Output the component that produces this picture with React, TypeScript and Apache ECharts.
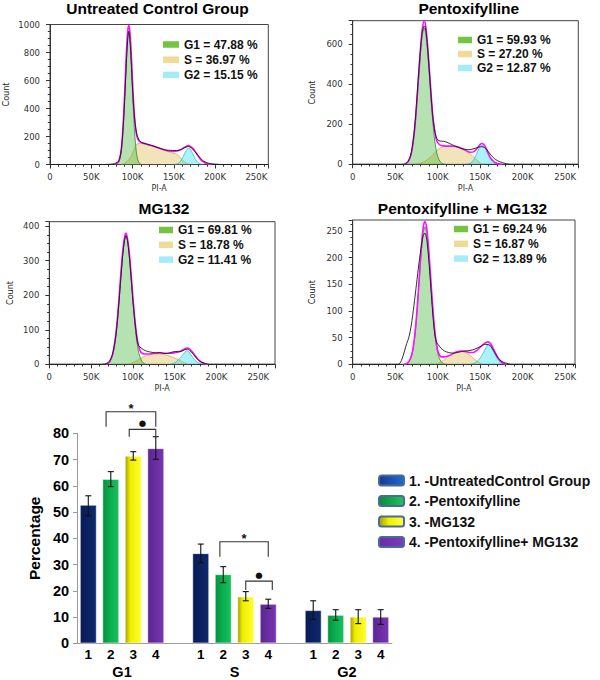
import React, { useEffect, useRef } from "react";
import * as echarts from "echarts";

// ---------- Histogram panels (PI-A in K, Count) ----------
const panelTitles = ["Untreated Control Group", "Pentoxifylline", "MG132", "Pentoxifylline + MG132"];
const g1Labels = ["G1 = 47.88 %", "G1 = 59.93 %", "G1 = 69.81 %", "G1 = 69.24 %"];
const sLabels = ["S = 36.97 %", "S = 27.20 %", "S = 18.78 %", "S = 16.87 %"];
const g2Labels = ["G2 = 15.15 %", "G2 = 12.87 %", "G2 = 11.41 %", "G2 = 13.89 %"];

const ctrlG1 = [[81,2],[83.4,17],[85.4,59],[86.4,100],[87.4,160],[88.4,240],[89.4,348],[90.4,472],[91.4,605],[92.4,741],[93.4,847],[94.4,917],[95.4,943],[96.4,917],[97.4,847],[98.4,741],[99.4,605],[100.4,472],[101.4,348],[102.4,240],[103.4,160],[104.4,100],[105.4,59],[107.4,17],[109.4,4],[112,0]];
const ctrlS = [[86,0],[90,8],[94,25],[98,55],[101,95],[103.5,130],[106,148],[110,150],[115,146],[120,138],[126,128],[132,116],[138,103],[144,90],[150,80],[154,72],[157,55],[160,35],[163,18],[166,7],[170,0]];
const ctrlG2 = [[149,0],[153,3],[156,11],[158,22],[160,40],[162,64],[164,89],[166,108],[168,116],[170,108],[172,89],[174,64],[176,40],[178,22],[180,11],[183,3],[187,0]];
const ctrlFit = [[79,0],[83,20],[85,62],[86.4,110],[87.4,175],[88.4,260],[89.4,370],[90.4,500],[91.4,640],[92.4,780],[93.4,890],[94.4,965],[95.4,993],[96.4,970],[97.4,900],[98.4,800],[99.4,670],[100.4,545],[101.4,430],[102.4,340],[103.4,275],[104.4,230],[105.4,200],[107,175],[110,158],[115,150],[120,140],[126,130],[132,118],[138,106],[144,96],[150,94],[155,98],[159,108],[163,122],[166,132],[168,135],[170,130],[173,115],[176,92],[179,65],[182,40],[185,22],[188,10],[192,3],[196,0]];
const ctrlRaw = [[0,0],[60,0],[70,1],[76,4],[80,10],[83,22],[85,55],[86.5,110],[88,210],[89.5,350],[91,530],[92.5,720],[94,880],[95.4,952],[96.5,920],[98,780],[99.5,600],[101,440],[102.5,330],[104,255],[105.5,210],[107.5,180],[110,162],[113,152],[117,146],[121,140],[126,130],[131,120],[136,110],[141,103],[146,101],[151,100],[155,100],[159,107],[163,120],[166,127],[168,128],[171,120],[174,104],[177,82],[180,60],[183,40],[186,25],[190,13],[195,6],[200,3],[205,1],[210,0],[264,0]];

const ptxG1 = [[62,3],[65,12],[68,39],[70,77],[72,137],[74,224],[76,335],[78,456],[80,568],[82,650],[84.2,680],[86,650],[88,568],[90,456],[92,335],[94,224],[96,137],[98,77],[100,39],[103,12],[106,3],[109,0]];
const ptxS = [[73,0],[80,6],[86,18],[92,38],[97,60],[101,76],[105,86],[110,90],[116,90],[122,88],[127,80],[132,68],[137,54],[142,38],[146,22],[149,10],[152,2],[155,0]];
const ptxG2 = [[133,0],[137,3],[140,10],[142,20],[144,35],[146,55],[148,75],[150,90],[151.8,95],[154,90],[156,78],[158,60],[160,42],[162,27],[164,16],[167,6],[171,1],[174,0]];
const ptxFit = [[62,3],[65,12],[68,40],[70,80],[72,142],[74,232],[76,348],[78,472],[80,590],[82,680],[84.2,718],[86,690],[88,600],[90,485],[92,365],[94,250],[96,180],[98,130],[100,108],[103,96],[107,92],[112,91],[118,91],[122,89],[127,82],[132,72],[136,63],[139,60],[142,62],[145,72],[148,88],[150,100],[152,104],[154,100],[156,88],[158,70],[160,50],[162,33],[165,18],[168,8],[172,2],[176,0]];
const ptxRaw = [[0,0],[58,0],[62,3],[65,14],[68,42],[70,85],[72,150],[74,240],[76,360],[78,480],[80,590],[82,665],[84.2,692],[86,670],[88,590],[90,475],[92,355],[94,250],[96,180],[98,140],[100,122],[103,116],[107,115],[111,110],[116,100],[121,90],[126,82],[131,76],[136,73],[140,75],[144,80],[148,86],[151.8,88],[155,84],[158,72],[161,55],[164,40],[167,28],[170,19],[173,13],[177,7],[181,3],[185,0],[265,0]];

const mgG1 = [[69.7,2],[72.7,9],[75.7,27],[77.7,51],[79.7,86],[81.7,135],[83.7,196],[85.7,260],[87.7,317],[89.7,357],[91.7,375],[93.7,357],[95.7,317],[97.7,260],[99.7,196],[101.7,135],[103.7,86],[105.7,51],[107.7,27],[110.7,9],[113.7,2],[116,0]];
const mgS = [[94,0],[99,4],[104,10],[109,17],[115,24],[121,28],[128,30],[135,29],[141,26],[147,21],[153,15],[158,9],[162,4],[166,0]];
const mgG2 = [[144,0],[148,2],[151,6],[154,12],[157,20],[160,28],[162,34],[164.4,40],[167,36],[169,29],[171,22],[174,13],[177,6],[181,2],[186,0]];
const mgFit = [[68,0],[70.7,4],[72.7,10],[75.7,28],[77.7,53],[79.7,89],[81.7,139],[83.7,201],[85.7,266],[87.7,324],[89.7,364],[91.7,380],[93.7,362],[95.7,322],[97.7,266],[99.7,204],[101.7,146],[103.7,99],[105.7,66],[107.7,45],[110,34],[114,30],[120,30],[126,32],[132,33],[138,32],[144,32],[149,33],[153,36],[157,38],[160,42],[163,46],[165,47],[168,44],[171,36],[174,26],[177,17],[180,10],[183,5],[187,1],[190,0]];
const mgRaw = [[0,0],[62,0],[66,1],[69,3],[72,9],[75,25],[77.5,50],[80,90],[82,140],[84,200],[86,262],[88,320],[90,358],[91.7,372],[93.5,358],[95.5,318],[97.5,262],[99.5,200],[101.5,145],[103.5,100],[105,70],[106.5,55],[108.5,50],[111,45],[113,42],[116.5,38],[120,36],[124,34],[128,33],[132,34],[136,32],[140,31],[144,33],[148,36],[151,37],[154,36],[157,37],[160,40],[163,43],[165,44],[168,40],[171,33],[174,24],[177,15],[180,9],[183,5],[187,2],[192,0],[270,0]];

const comboG1 = [[63,1],[66,5],[69,15],[71,29],[73,52],[75,85],[77,127],[79,173],[81,216],[83,247],[85,258],[87,247],[89,216],[91,173],[93,127],[95,85],[97,52],[99,29],[101,15],[104,5],[107,1],[110,0]];
const comboS = [[97,0],[102,3],[107,8],[112,14],[117,19],[122,23],[126,24],[131,23],[136,19],[141,13],[145,7],[149,3],[152,0]];
const comboG2 = [[139,0],[143,2],[146,5],[149,10],[152,17],[155,26],[157.5,33],[159.5,38],[162,35],[164,29],[166,22],[169,13],[172,6],[175,2],[179,0]];
const comboFit = [[60,0],[63,1],[66,5],[69,15],[71,30],[73,54],[75,88],[77,132],[79,180],[81,225],[83,258],[85,268],[87,256],[89,224],[91,180],[93,133],[95,90],[97,57],[99,34],[101,21],[104,14],[108,14],[113,16],[118,20],[123,24],[128,25],[133,24],[138,22],[142,22],[146,26],[150,32],[154,38],[157,41],[159.5,42],[162,39],[165,31],[168,21],[171,12],[174,6],[177,2],[181,0]];
const comboRaw = [[0,0],[52,0],[55,1],[58,10],[61,25],[63.5,39],[66,50],[69,74],[72,110],[75,150],[78,190],[81,225],[83,242],[85,246],[87,235],[89,205],[91,165],[93,120],[95,80],[97,52],[99,40],[101,36],[104,30],[108,25],[113,22],[118,21],[123,22],[128,24],[133,25],[138,26],[143,28],[147,31],[151,34],[155,37],[158,37],[161,36],[164,30],[167,22],[170,14],[173,8],[177,4],[181,2],[186,0],[262,0]];

const panelG1 = [ctrlG1, ptxG1, mgG1, comboG1];
const panelS = [ctrlS, ptxS, mgS, comboS];
const panelG2 = [ctrlG2, ptxG2, mgG2, comboG2];
const panelFit = [ctrlFit, ptxFit, mgFit, comboFit];
const panelRaw = [ctrlRaw, ptxRaw, mgRaw, comboRaw];

// ---------- Bar chart (Percentage) ----------
const groupNames = ["G1", "S", "G2"];
const treatmentNames = ["1. -UntreatedControl Group", "2. -Pentoxifylline", "3. -MG132", "4. -Pentoxifylline+ MG132"];
const treatmentTicks = ["1", "2", "3", "4"];
const g1Mean = [52.7, 62.6, 71.4, 74.3];
const g1Low = [48.6, 59.7, 69.8, 70.1];
const g1High = [56.2, 65.4, 73.0, 78.7];
const sMean = [34.3, 26.3, 17.8, 15.0];
const sLow = [30.7, 23.1, 16.2, 13.3];
const sHigh = [37.8, 29.2, 19.7, 16.8];
const g2Mean = [12.6, 10.8, 10.1, 10.1];
const g2Low = [9.1, 8.8, 7.5, 7.2];
const g2High = [16.2, 12.8, 12.8, 12.8];

// significance brackets (slot units on the category axis, percentage values)
const bracketFrom = [0.79, 1.82, 5.85, 7.0];
const bracketTo = [3.0, 3.0, 8.0, 8.18];
const bracketTop = [88.2, 81.5, 38.7, 23.7];
const bracketLeg = [82.5, 78.7, 33.0, 20.3];
const bracketMark = ["*", "●", "*", "●"];

// ---------- layout / style ----------
const SANS = '"Liberation Sans", Arial, Helvetica, sans-serif';
const AXF = '"DejaVu Sans", Verdana, sans-serif';
const NARROW = '"Liberation Sans Narrow", "DejaVu Sans Condensed", Arial, sans-serif';

const gridSpecs = [
  { left: 49.3, top: 24.5, width: 219, height: 140, xMax: 264.5, yMax: 1000, yStep: 200, countGap: 40 },
  { left: 352.7, top: 20.7, width: 225.6, height: 143.6, xMax: 265.4, yMax: 718, yStep: 200, countGap: 36.5 },
  { left: 49.3, top: 221.7, width: 225.7, height: 142.6, xMax: 270, yMax: 413, yStep: 100, countGap: 35 },
  { left: 352.7, top: 220, width: 222.3, height: 144.3, xMax: 261.5, yMax: 270.7, yStep: 50, countGap: 36.5 },
];
const titlePos = [[157.5, 8.7], [468.8, 8.7], [164, 208.7], [462.5, 208.3]];
const histLegendPos = [
  { left: 163, top: 38.5, itemWidth: 16, itemGap: 3.2 },
  { left: 458, top: 34, itemWidth: 14, itemGap: 2 },
  { left: 159, top: 224, itemWidth: 14, itemGap: 2.8 },
  { left: 454, top: 223, itemWidth: 14, itemGap: 2.8 },
];

const lin = (stops: [number, string][]) => ({
  type: "linear", x: 0, y: 0, x2: 1, y2: 0,
  colorStops: stops.map(([offset, color]) => ({ offset, color })),
});
const barColors = [
  lin([[0, "#0a1a55"], [1, "#0d2a6e"]]),
  lin([[0, "#049240"], [0.5, "#0bb050"], [1, "#19c060"]]),
  lin([[0, "#a8a000"], [0.3, "#eeee00"], [1, "#ffff2a"]]),
  lin([[0, "#5a2590"], [1, "#7a35b2"]]),
];
const legendColors = [
  lin([[0, "#173a8c"], [1, "#1f6bd0"]]),
  lin([[0, "#0a8a3c"], [1, "#22c45c"]]),
  lin([[0, "#a0a000"], [0.4, "#f2f200"], [1, "#ffff40"]]),
  lin([[0, "#6a2ea2"], [1, "#7b3cba"]]),
];

function buildOption() {
  const grids: any[] = [];
  const xAxes: any[] = [];
  const yAxes: any[] = [];
  const series: any[] = [];
  const legends: any[] = [];
  const graphics: any[] = [];

  gridSpecs.forEach((g, i) => {
    grids.push({ left: g.left, top: g.top, width: g.width, height: g.height, show: true, borderColor: "#444", borderWidth: 1, backgroundColor: "transparent" });
    xAxes.push({
      type: "value", gridIndex: i, min: 0, max: g.xMax, interval: 50,
      name: "PI-A", nameLocation: "middle", nameGap: 20,
      nameTextStyle: { fontFamily: AXF, fontSize: 8, color: "#333" },
      axisLine: { lineStyle: { color: "#333", width: 1 } },
      axisTick: { length: 4, lineStyle: { color: "#333" } },
      minorTick: { show: true, splitNumber: 5, length: 2.2, lineStyle: { color: "#333" } },
      splitLine: { show: false },
      axisLabel: { fontFamily: AXF, fontSize: 8.5, color: "#333", margin: 8, showMaxLabel: false,
        formatter: (v: number) => (v === 0 ? "0" : `${v}K`) },
    });
    yAxes.push({
      type: "value", gridIndex: i, min: 0, max: g.yMax, interval: g.yStep,
      name: "Count", nameLocation: "middle", nameGap: g.countGap,
      nameTextStyle: { fontFamily: NARROW, fontSize: 9, color: "#222" },
      axisLine: { show: true, lineStyle: { color: "#333", width: 1 } },
      axisTick: { show: true, length: 4, lineStyle: { color: "#333" } },
      minorTick: { show: true, splitNumber: 4, length: 2.2, lineStyle: { color: "#333" } },
      splitLine: { show: false },
      axisLabel: { fontFamily: AXF, fontSize: 8.5, color: "#333", margin: 10, showMaxLabel: g.yMax % g.yStep === 0,
        formatter: (v: number) => String(v) },
    });
    const common = { type: "line", xAxisIndex: i, yAxisIndex: i, showSymbol: false, symbol: "none", silent: true, smooth: 0.3 };
    series.push({ ...common, name: sLabels[i], data: panelS[i], z: 2,
      lineStyle: { color: "#c09a40", width: 0.6 }, areaStyle: { color: "rgba(220,188,85,0.58)" } });
    series.push({ ...common, name: g2Labels[i], data: panelG2[i], z: 2,
      lineStyle: { color: "#1aa5c0", width: 0.6 }, areaStyle: { color: "rgba(30,225,240,0.55)" } });
    series.push({ ...common, name: g1Labels[i], data: panelG1[i], z: 2,
      lineStyle: { color: "#2f8a2a", width: 0.8 }, areaStyle: { color: "rgba(60,180,50,0.55)" } });
    series.push({ ...common, name: `fit${i}`, data: panelFit[i], z: 3,
      lineStyle: { color: "#ff10ff", width: 1.6 } });
    series.push({ ...common, name: `raw${i}`, data: panelRaw[i], z: 4,
      lineStyle: { color: "#1a1a1a", width: 0.9 } });
    const lp = histLegendPos[i];
    legends.push({
      orient: "vertical", left: lp.left, top: lp.top, itemWidth: lp.itemWidth, itemHeight: 6.5, itemGap: lp.itemGap,
      padding: 0, icon: "rect", selectedMode: false,
      textStyle: { fontFamily: SANS, fontSize: 12, fontWeight: "bold", color: "#111" },
      data: [
        { name: g1Labels[i], itemStyle: { color: "#74c441" } },
        { name: sLabels[i], itemStyle: { color: "#f0da96" } },
        { name: g2Labels[i], itemStyle: { color: "#a4ecf8" } },
      ],
    });
    graphics.push({
      type: "text", x: titlePos[i][0], y: titlePos[i][1],
      style: { text: panelTitles[i], fontFamily: SANS, fontSize: 15.5, fontWeight: "bold", fill: "#000", align: "center", verticalAlign: "middle" },
    });
  });

  // bar chart
  const slots: string[] = [];
  groupNames.forEach((g, gi) => {
    treatmentTicks.forEach((t) => slots.push(`${g}|${t}`));
    if (gi < groupNames.length - 1) slots.push(`${g}|`);
  });
  const groupSlots: string[] = [];
  for (let i = 0; i <= slots.length; i++) {
    const gi = groupNames.findIndex((_, k) => k * 5 + 2 === i);
    groupSlots.push(gi >= 0 ? groupNames[gi] : `_${i}`);
  }
  const means = [g1Mean, sMean, g2Mean];
  const lows = [g1Low, sLow, g2Low];
  const highs = [g1High, sHigh, g2High];

  grids.push({ left: 77.05, top: 433.3, width: 314.9, height: 210 });
  xAxes.push({
    type: "category", gridIndex: 4, data: slots, position: "bottom",
    axisLine: { lineStyle: { color: "#9a9a9a", width: 1 } },
    axisTick: { show: false },
    axisLabel: { interval: 0, margin: 4.5, fontFamily: SANS, fontSize: 13.5, fontWeight: "bold", color: "#000",
      formatter: (v: string) => v.split("|")[1] },
  });
  xAxes.push({
    type: "category", gridIndex: 4, data: groupSlots, position: "bottom", boundaryGap: false,
    axisLine: { show: false }, axisTick: { show: false },
    axisLabel: { interval: 0, margin: 21, fontFamily: SANS, fontSize: 14.5, fontWeight: "bold", color: "#000",
      formatter: (v: string) => (v.startsWith("_") ? "" : v) },
  });
  yAxes.push({
    type: "value", gridIndex: 4, min: 0, max: 80, interval: 10,
    name: "Percentage", nameLocation: "middle", nameGap: 32,
    nameTextStyle: { fontFamily: SANS, fontSize: 15.5, fontWeight: "bold", color: "#000" },
    axisLine: { show: true, lineStyle: { color: "#9a9a9a", width: 1 } },
    axisTick: { show: true, length: 4, lineStyle: { color: "#9a9a9a" } },
    splitLine: { show: false },
    axisLabel: { margin: 8, fontFamily: SANS, fontSize: 14.5, fontWeight: "bold", color: "#000" },
  });
  treatmentNames.forEach((name, k) => {
    series.push({
      type: "bar", name, xAxisIndex: 4, yAxisIndex: 4, barWidth: 16.7, barGap: "-100%", silent: true, z: 2,
      itemStyle: { color: barColors[k], borderColor: "rgba(255,255,255,0.6)", borderWidth: 0.8 },
      data: slots.map((_, i) => (i % 5 === k ? means[Math.floor(i / 5)][k] : null)),
    });
  });
  const errData: number[][] = [];
  means.forEach((arr, gi) => arr.forEach((_, k) => errData.push([gi * 5 + k, lows[gi][k], highs[gi][k]])));
  series.push({
    type: "custom", xAxisIndex: 4, yAxisIndex: 4, z: 5, silent: true, clip: false,
    encode: { x: 0, y: [1, 2] }, data: errData,
    renderItem: (_p: any, api: any) => {
      const x = api.value(0);
      const lo = api.coord([x, api.value(1)]);
      const hi = api.coord([x, api.value(2)]);
      const w = 3;
      const st = { stroke: "#111", lineWidth: 1.1 };
      return {
        type: "group", children: [
          { type: "line", shape: { x1: hi[0], y1: hi[1], x2: lo[0], y2: lo[1] }, style: st },
          { type: "line", shape: { x1: hi[0] - w, y1: hi[1], x2: hi[0] + w, y2: hi[1] }, style: st },
          { type: "line", shape: { x1: lo[0] - w, y1: lo[1], x2: lo[0] + w, y2: lo[1] }, style: st },
        ],
      };
    },
  });
  series.push({
    type: "custom", xAxisIndex: 4, yAxisIndex: 4, z: 5, silent: true, clip: false,
    encode: { x: 0, y: 1 }, data: bracketTop.map((t, i) => [Math.floor(bracketFrom[i]), t]),
    renderItem: (p: any, api: any) => {
      const i = p.dataIndex;
      const xAt = (s: number) => {
        const b = Math.floor(s);
        const a = api.coord([b, 0])[0];
        const c = api.coord([b + 1, 0])[0];
        return a + (s - b) * (c - a);
      };
      const xl = xAt(bracketFrom[i]);
      const xr = xAt(bracketTo[i]);
      const yt = api.coord([0, bracketTop[i]])[1];
      const yl = api.coord([0, bracketLeg[i]])[1];
      const star = bracketMark[i] === "*";
      return {
        type: "group", children: [
          { type: "polyline", shape: { points: [[xl, yl], [xl, yt], [xr, yt], [xr, yl]] }, style: { stroke: "#333", lineWidth: 1.1, fill: "none" } },
          { type: "text", x: (xl + xr) / 2, y: yt - (star ? 3.5 : 6),
            style: { text: bracketMark[i], fontFamily: star ? SANS : AXF, fontSize: star ? 13 : 8.5, fontWeight: "bold", fill: "#111", align: "center", verticalAlign: "middle" } },
        ],
      };
    },
  });
  legends.push({
    orient: "vertical", left: 378, top: 473.5, itemWidth: 25, itemHeight: 10, itemGap: 6.5,
    padding: 0, icon: "roundRect", selectedMode: false,
    textStyle: { fontFamily: SANS, fontSize: 14, fontWeight: "bold", color: "#111" },
    data: treatmentNames.map((name, k) => ({ name, itemStyle: { color: legendColors[k], borderColor: "#4a6a9c", borderWidth: 2 } })),
  });

  return {
    animation: false,
    backgroundColor: "#fff",
    grid: grids, xAxis: xAxes, yAxis: yAxes, series, legend: legends, graphic: graphics,
  };
}

export default function App() {
  const ref = useRef<HTMLDivElement>(null);
  useEffect(() => {
    if (!ref.current) return;
    const chart = echarts.init(ref.current, null, { renderer: "svg" });
    chart.setOption(buildOption() as any);
    return () => chart.dispose();
  }, []);
  return <div ref={ref} style={{ position: "absolute", left: 0, top: 0, width: 600, height: 680, background: "#fff" }} />;
}
